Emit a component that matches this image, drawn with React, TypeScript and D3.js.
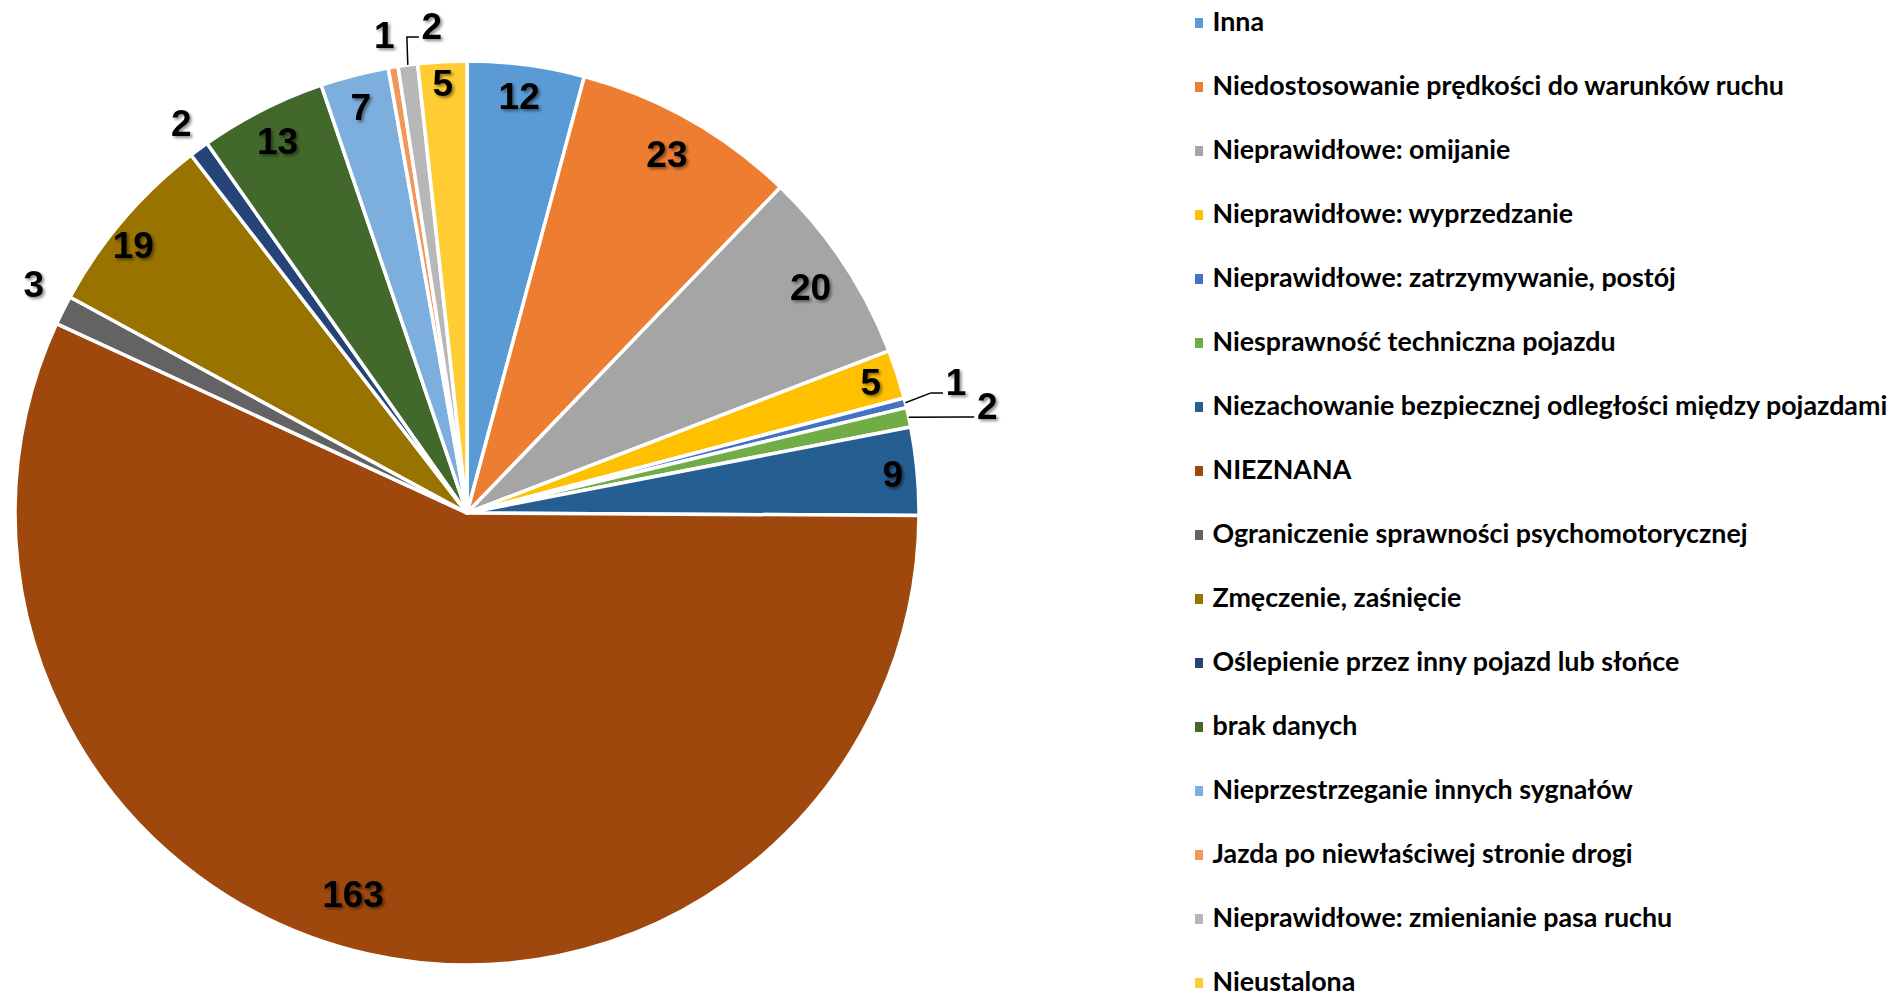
import React from 'react';
import * as d3 from 'd3';

const categories = [
  'Inna',
  'Niedostosowanie prędkości do warunków ruchu',
  'Nieprawidłowe: omijanie',
  'Nieprawidłowe: wyprzedzanie',
  'Nieprawidłowe: zatrzymywanie, postój',
  'Niesprawność techniczna pojazdu',
  'Niezachowanie bezpiecznej odległości między pojazdami',
  'NIEZNANA',
  'Ograniczenie sprawności psychomotorycznej',
  'Zmęczenie, zaśnięcie',
  'Oślepienie przez inny pojazd lub słońce',
  'brak danych',
  'Nieprzestrzeganie innych sygnałów',
  'Jazda po niewłaściwej stronie drogi',
  'Nieprawidłowe: zmienianie pasa ruchu',
  'Nieustalona',
];

const values = [12, 23, 20, 5, 1, 2, 9, 163, 3, 19, 2, 13, 7, 1, 2, 5];

const palette = [
  '#5B9BD5', '#ED7D31', '#A5A5A5', '#FFC000', '#4472C4', '#70AD47', '#255E91', '#9E480E',
  '#636363', '#997300', '#264478', '#43682B', '#7CAFDD', '#F1975A', '#B7B7B7', '#FFCD33',
];

// label placement: fraction of radius, angle shift from slice middle (deg), leader line
const labelRadius = [0.93, 0.91, 0.91, 0.94, 1.12, 1.175, 0.946, 0.88, 1.084, 0.947, 1.071, 0.924, 0.93, 1.075, 1.08, 0.953];
const labelShift = [-0.4, -0.4, 0.2, -0.2, -0.9, 0.6, 0, 4.1, 1.2, -1.7, 0.2, 0, -0.2, -0.4, 3.4, -0.1];
const hasLeader = [false, false, false, false, true, true, false, false, false, false, false, false, false, false, true, false];

const W = 1892;
const H = 998;
const cx = 467;
const cy = 513;
const R = 452;

export default function App() {
  const pie = d3.pie<number>().sort(null).value(d => d).startAngle(0).endAngle(2 * Math.PI);
  const arcs = pie(values);
  const arc = d3.arc<d3.PieArcDatum<number>>().innerRadius(0).outerRadius(R);

  const polar = (ang: number, r: number) => [r * Math.sin(ang), -r * Math.cos(ang)];

  const legendX = 1195;
  const legendY = d3.scaleLinear().domain([0, categories.length - 1]).range([21, 981]);

  return (
    <svg width={W} height={H} style={{ position: 'absolute', left: 0, top: 0, background: '#fff' }}>
      <defs>
        <filter id="shadow" x="-30%" y="-30%" width="160%" height="160%">
          <feDropShadow dx="2" dy="2" stdDeviation="1.4" floodColor="#000" floodOpacity="0.45" />
        </filter>
      </defs>
      <g transform={`translate(${cx},${cy})`}>
        {arcs.map((a, i) => (
          <path key={i} d={arc(a) || ''} fill={palette[i]} stroke="#fff" strokeWidth={3.5} strokeLinejoin="round" />
        ))}
        {arcs.map((a, i) => {
          if (!hasLeader[i]) return null;
          const mid = (a.startAngle + a.endAngle) / 2;
          const lab = polar(mid + (labelShift[i] * Math.PI) / 180, R * labelRadius[i]);
          const start = polar(mid, R);
          const end = [lab[0] - 13, lab[1] + 11];
          const elbow = [end[0] - 12, end[1]];
          return (
            <polyline key={'l' + i}
              points={`${start[0]},${start[1]} ${elbow[0]},${elbow[1]} ${end[0]},${end[1]}`}
              fill="none" stroke="#000" strokeWidth={1.5} />
          );
        })}
        <g filter="url(#shadow)">
          {arcs.map((a, i) => {
            const mid = (a.startAngle + a.endAngle) / 2;
            const p = polar(mid + (labelShift[i] * Math.PI) / 180, R * labelRadius[i]);
            return (
              <text key={'t' + i} x={p[0]} y={p[1]} dy="0.36em" textAnchor="middle"
                fontFamily="'Liberation Sans', Arial, sans-serif" fontWeight="bold" fontSize={37} fill="#000">
                {values[i]}
              </text>
            );
          })}
        </g>
      </g>
      <g>
        {categories.map((c, i) => (
          <g key={c} transform={`translate(${legendX},${legendY(i)})`}>
            <rect x={0} y={-3} width={8} height={10} fill={palette[i]} />
            <text x={17.5} y={0} dy="0.36em" fontFamily="Lato, sans-serif" fontWeight="bold" fontSize={26.8} fill="#000">
              {c}
            </text>
          </g>
        ))}
      </g>
    </svg>
  );
}
